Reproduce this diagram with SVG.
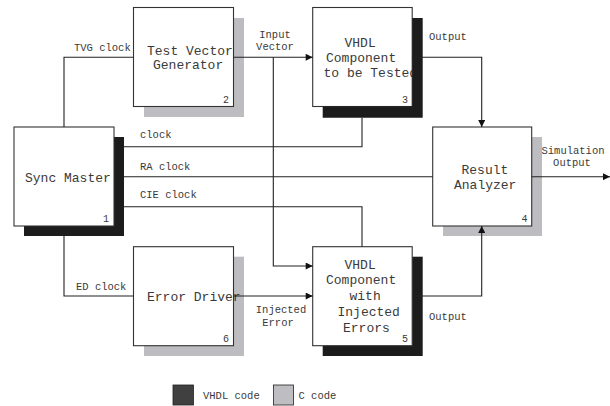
<svg xmlns="http://www.w3.org/2000/svg" width="610" height="406" viewBox="0 0 610 406">
<defs>
<style>
.box{fill:#fff;stroke:#333;stroke-width:1.1}
.vs{fill:#1c1c1c}
.cs{fill:#bdbdc1}
.t{font-family:"Liberation Mono","Courier New",monospace;font-size:13px;fill:#3a3a3a}
.n{font-family:"Liberation Mono","Courier New",monospace;font-size:10px;fill:#3a3a3a}
.l{font-family:"Liberation Mono","Courier New",monospace;font-size:10.5px;fill:#3a3a3a}
.w{fill:none;stroke:#222;stroke-width:1.1}
</style>
<marker id="ah" viewBox="0 0 10 10" refX="10" refY="5" markerWidth="8" markerHeight="7" markerUnits="userSpaceOnUse" orient="auto">
<path d="M0,0 L10,5 L0,10 z" fill="#111"/>
</marker>
</defs>
<rect width="610" height="406" fill="#fff"/>

<g id="node1">
<rect class="vs" x="24" y="137" width="100" height="99"/>
<rect class="box" x="14" y="127" width="100" height="99"/>
<text class="t" x="25" y="182">Sync Master</text>
<text class="n" x="103" y="222">1</text>
</g>

<g id="node2">
<rect class="cs" x="144" y="18" width="100" height="99"/>
<rect class="box" x="133.5" y="7.5" width="100" height="99"/>
<text class="t" x="147" y="55">Test Vector</text>
<text class="t" x="153" y="69">Generator</text>
<text class="n" x="223" y="103">2</text>
</g>

<g id="node3">
<rect class="box" x="312.7" y="7.5" width="99.5" height="99"/>
<text class="t" x="344.5" y="47">VHDL</text>
<text class="t" x="326" y="62">Component</text>
<text class="t" x="323.5" y="77">to be Tested</text>
<text class="n" x="402" y="103">3</text>
<polygon class="vs" points="412.2,18 422.7,18 422.7,117.7 322.7,117.7 322.7,106.5 412.2,106.5"/>
</g>

<g id="node4">
<rect class="cs" x="443" y="137" width="99" height="99"/>
<rect class="box" x="432.7" y="127" width="99" height="99"/>
<text class="t" x="461.5" y="173.5">Result</text>
<text class="t" x="454" y="189">Analyzer</text>
<text class="n" x="521.5" y="222">4</text>
</g>

<g id="node5">
<rect class="vs" x="322.7" y="256.7" width="100" height="99.3"/>
<rect class="box" x="312.7" y="246.7" width="99.5" height="99"/>
<text class="t" x="344.5" y="268.5">VHDL</text>
<text class="t" x="326" y="284">Component</text>
<text class="t" x="349.5" y="300">with</text>
<text class="t" x="337.5" y="316">Injected</text>
<text class="t" x="343" y="332">Errors</text>
<text class="n" x="402" y="342">5</text>
</g>

<g id="node6">
<rect class="cs" x="144" y="256.7" width="100" height="99.3"/>
<rect class="box" x="133.5" y="246.7" width="100" height="99"/>
<text class="t" x="147" y="300.5">Error Driver</text>
<text class="n" x="223" y="342">6</text>
</g>

<g id="connectors">
<polyline class="w" points="64,127 64,57.3 133.5,57.3"/>
<text class="l" x="74" y="51">TVG clock</text>
<line class="w" x1="233.5" y1="57.3" x2="312.7" y2="57.3" marker-end="url(#ah)"/>
<polyline class="w" points="273.3,57.3 273.3,266 312.7,266" marker-end="url(#ah)"/>
<text class="l" x="275" y="38" text-anchor="middle">Input</text>
<text class="l" x="275" y="50" text-anchor="middle">Vector</text>
<polyline class="w" points="412.2,57.3 481.7,57.3 481.7,127" marker-end="url(#ah)"/>
<text class="l" x="429" y="40">Output</text>
<polyline class="w" points="124,146.7 362,146.7 362,117.7"/>
<text class="l" x="140" y="138">clock</text>
<line class="w" x1="124" y1="176.7" x2="432.7" y2="176.7"/>
<text class="l" x="140" y="169.5">RA clock</text>
<polyline class="w" points="124,206.7 362,206.7 362,246.7"/>
<text class="l" x="140" y="197.5">CIE clock</text>
<polyline class="w" points="64,236 64,296 133.5,296"/>
<text class="l" x="76" y="290">ED clock</text>
<line class="w" x1="233.5" y1="296" x2="312.7" y2="296" marker-end="url(#ah)"/>
<text class="l" x="281" y="312.5" text-anchor="middle">Injected</text>
<text class="l" x="278" y="326" text-anchor="middle">Error</text>
<polyline class="w" points="412.2,296 481.7,296 481.7,226" marker-end="url(#ah)"/>
<text class="l" x="429" y="319.5">Output</text>
<line class="w" x1="531.7" y1="176.7" x2="610" y2="176.7" marker-end="url(#ah)"/>
<text class="l" x="573" y="154" text-anchor="middle">Simulation</text>
<text class="l" x="572" y="166" text-anchor="middle">Output</text>
</g>

<g id="legend">
<rect x="173" y="385" width="20.5" height="20" fill="#404040" stroke="#222" stroke-width="0.8"/>
<text class="l" x="203" y="398.5">VHDL code</text>
<rect x="273.5" y="385" width="20" height="20" fill="#bebec2" stroke="#222" stroke-width="0.8"/>
<text class="l" x="298.5" y="398.5">C code</text>
</g>
</svg>
